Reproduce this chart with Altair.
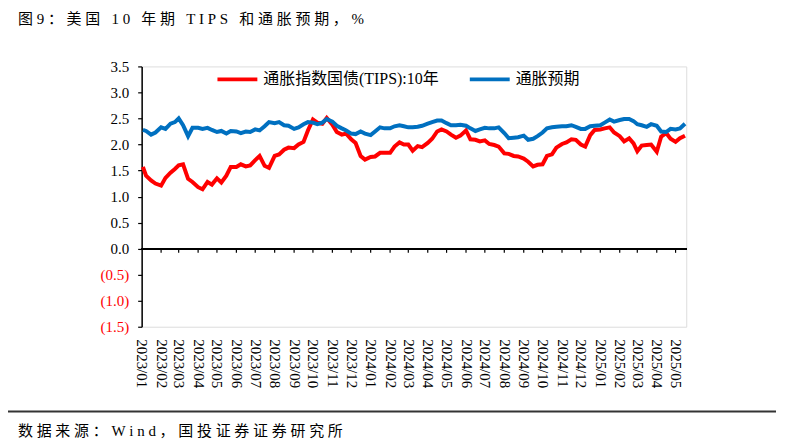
import altair as alt
import pandas as pd

# ---------------- data ----------------
month_labels = ["2023/01", "2023/02", "2023/03", "2023/04", "2023/05", "2023/06", "2023/07",
                "2023/08", "2023/09", "2023/10", "2023/11", "2023/12", "2024/01", "2024/02",
                "2024/03", "2024/04", "2024/05", "2024/06", "2024/07", "2024/08", "2024/09",
                "2024/10", "2024/11", "2024/12", "2025/01", "2025/02", "2025/03", "2025/04",
                "2025/05"]
days_in_month = ["01", "08", "16", "23"]

tips_10y = [
    1.57, 1.40, 1.31, 1.25,
    1.21, 1.36, 1.46, 1.53,
    1.60, 1.62, 1.34, 1.28,
    1.18, 1.14, 1.28, 1.23,
    1.35, 1.27, 1.40, 1.57,
    1.57, 1.62, 1.58, 1.60,
    1.70, 1.78, 1.59, 1.55,
    1.78, 1.81, 1.90, 1.94,
    1.93, 2.00, 2.05, 2.27,
    2.48, 2.42, 2.40, 2.51,
    2.38, 2.24, 2.19, 2.21,
    2.10, 2.03, 1.78, 1.71,
    1.76, 1.77, 1.84, 1.84,
    1.84, 1.96, 2.04, 2.00,
    2.00, 1.88, 1.97, 1.95,
    2.03, 2.11, 2.25, 2.29,
    2.25, 2.19, 2.13, 2.17,
    2.27, 2.10, 2.09, 2.06,
    2.08, 2.01, 1.99, 1.96,
    1.83, 1.82, 1.78, 1.77,
    1.73, 1.67, 1.58, 1.61,
    1.62, 1.78, 1.81, 1.94,
    2.01, 2.04, 2.10, 2.09,
    2.00, 1.96, 2.18, 2.28,
    2.29, 2.31, 2.33, 2.23,
    2.16, 2.06, 2.12, 2.02,
    1.87, 1.98, 1.99, 2.00,
    1.86, 2.15, 2.22, 2.11,
    2.05, 2.12, 2.17,
]

inflation_exp = [
    2.28, 2.26, 2.19, 2.23,
    2.33, 2.30, 2.40, 2.43,
    2.50, 2.37, 2.16, 2.32,
    2.32, 2.30, 2.32, 2.28,
    2.24, 2.26, 2.21, 2.26,
    2.25, 2.22, 2.25, 2.24,
    2.29, 2.27, 2.35, 2.43,
    2.41, 2.43, 2.37, 2.36,
    2.30, 2.33, 2.39, 2.43,
    2.42, 2.39, 2.42, 2.49,
    2.44, 2.36, 2.31, 2.27,
    2.21, 2.20, 2.25, 2.21,
    2.18, 2.25, 2.33, 2.31,
    2.31, 2.35, 2.37, 2.35,
    2.33, 2.33, 2.34, 2.36,
    2.40, 2.43, 2.46, 2.46,
    2.41, 2.37, 2.37, 2.38,
    2.36, 2.31, 2.26, 2.29,
    2.32, 2.31, 2.31, 2.33,
    2.22, 2.12, 2.13, 2.14,
    2.17, 2.09, 2.11, 2.16,
    2.23, 2.31, 2.33, 2.34,
    2.35, 2.35, 2.37, 2.34,
    2.30, 2.30, 2.35, 2.36,
    2.37, 2.42, 2.48, 2.44,
    2.47, 2.49, 2.49, 2.45,
    2.39, 2.37, 2.34, 2.39,
    2.36, 2.25, 2.24, 2.30,
    2.29, 2.31, 2.40,
]

series_names = ["通胀指数国债(TIPS):10年", "通胀预期"]
series_colors = ["#FF0000", "#0070C0"]
y_ticks = [-1.5, -1.0, -0.5, 0.0, 0.5, 1.0, 1.5, 2.0, 2.5, 3.0, 3.5]

title_text = "图9：美国 10 年期 TIPS 和通胀预期，%"
source_text = "数据来源：Wind，国投证券证券研究所"

# ---------------- build tables ----------------
dates = [m.replace("/", "-") + "-" + d for m in month_labels for d in days_in_month][:len(tips_10y)]
dates[0] = "2023-01-03"

rows = []
for i, (name, vals) in enumerate(zip(series_names, [tips_10y, inflation_exp])):
    for dt, v in zip(dates, vals):
        rows.append({"date": dt, "value": v, "series": name, "series_order": i})
df = pd.DataFrame(rows)

tick_df = pd.DataFrame({"date": [m.replace("/", "-") + "-01" for m in month_labels[1:]]})

SERIF = "Liberation Serif, Noto Sans CJK SC"
SP = "\u2005"

x_scale = alt.Scale(type="utc",
                    domain=[alt.DateTime(year=2023, month=1, date=1, utc=True),
                            alt.DateTime(year=2025, month=5, date=18, utc=True)])
y_scale = alt.Scale(domain=[-1.5, 3.5], nice=False, zero=False)

y_axis = alt.Axis(title=None, values=y_ticks, grid=False, labelOverlap=False,
                  labelExpr="datum.value < 0 ? '(' + format(-datum.value, '.1f') + ')' : format(datum.value, '.1f')",
                  labelColor={"condition": {"test": "datum.value < 0", "value": "#FF0000"},
                              "value": "#000000"},
                  labelFont=SERIF, labelFontSize=15, labelPadding=9,
                  tickSize=4, tickColor="#000000", tickWidth=1.2,
                  domainColor="#000000", domainWidth=1.5)

lines = alt.Chart(df).mark_line(strokeWidth=4).encode(
    x=alt.X("date:T", scale=x_scale,
            axis=alt.Axis(title=None, domain=False, ticks=False, grid=False,
                          labelAngle=90, labelPadding=12, labelFlush=False,
                          labelOverlap=False,
                          tickCount={"interval": "month", "step": 1},
                          labelExpr="utcFormat(datum.value, '%Y/%m')",
                          labelFont=SERIF, labelFontSize=15, labelColor="#000000")),
    y=alt.Y("value:Q", scale=y_scale, axis=y_axis),
    color=alt.Color("series:N",
                    scale=alt.Scale(domain=series_names, range=series_colors),
                    legend=alt.Legend(title=None, orient="none", legendX=74, legendY=-9,
                                      direction="horizontal", symbolType="stroke",
                                      symbolStrokeWidth=4, symbolSize=1600,
                                      labelFont=SERIF, labelFontSize=16, labelLimit=0,
                                      labelColor="#000000", labelOffset=4,
                                      columnPadding=22)),
    order=alt.Order("series_order:Q"),
)

zero_line = alt.Chart(df).mark_rule(color="#000000", strokeWidth=1.5).encode(
    y=alt.Y(datum=0, scale=y_scale, axis=y_axis))

x_ticks = alt.Chart(tick_df).mark_rule(color="#000000", strokeWidth=1.2).encode(
    x=alt.X("date:T", scale=x_scale),
    y=alt.Y(datum=0, scale=y_scale, axis=y_axis), y2=alt.datum(-0.08))

title_mark = alt.Chart(pd.DataFrame({"t": [SP.join(title_text)]})).mark_text(
    align="left", baseline="middle", font=SERIF, fontSize=15, color="#000000").encode(
    text="t:N", x=alt.value(-124), y=alt.value(-48))

source_mark = alt.Chart(pd.DataFrame({"t": [SP.join(source_text)]})).mark_text(
    align="left", baseline="middle", font=SERIF, fontSize=15, color="#000000").encode(
    text="t:N", x=alt.value(-124), y=alt.value(366))

top_rule = alt.Chart(pd.DataFrame({"a": [0]})).mark_rule(color="#333333", strokeWidth=1.5).encode(
    x=alt.value(-136), x2=alt.value(636), y=alt.value(-61))
bottom_rule = alt.Chart(pd.DataFrame({"a": [0]})).mark_rule(color="#333333", strokeWidth=2).encode(
    x=alt.value(-136), x2=alt.value(636), y=alt.value(346))

chart = alt.layer(
    lines, zero_line, x_ticks, title_mark, source_mark, top_rule, bottom_rule
).properties(
    width=546, height=261,
    padding={"left": 134, "top": 58, "right": 92, "bottom": 113},
    autosize=alt.AutoSizeParams(type="none"),
).configure_view(stroke=None).configure(background="#FFFFFF").configure_axisY(
    labelOverlap=False).configure_axisX(labelOverlap=False)

chart.save("out.html", embed_options={"renderer": "svg", "actions": False})
